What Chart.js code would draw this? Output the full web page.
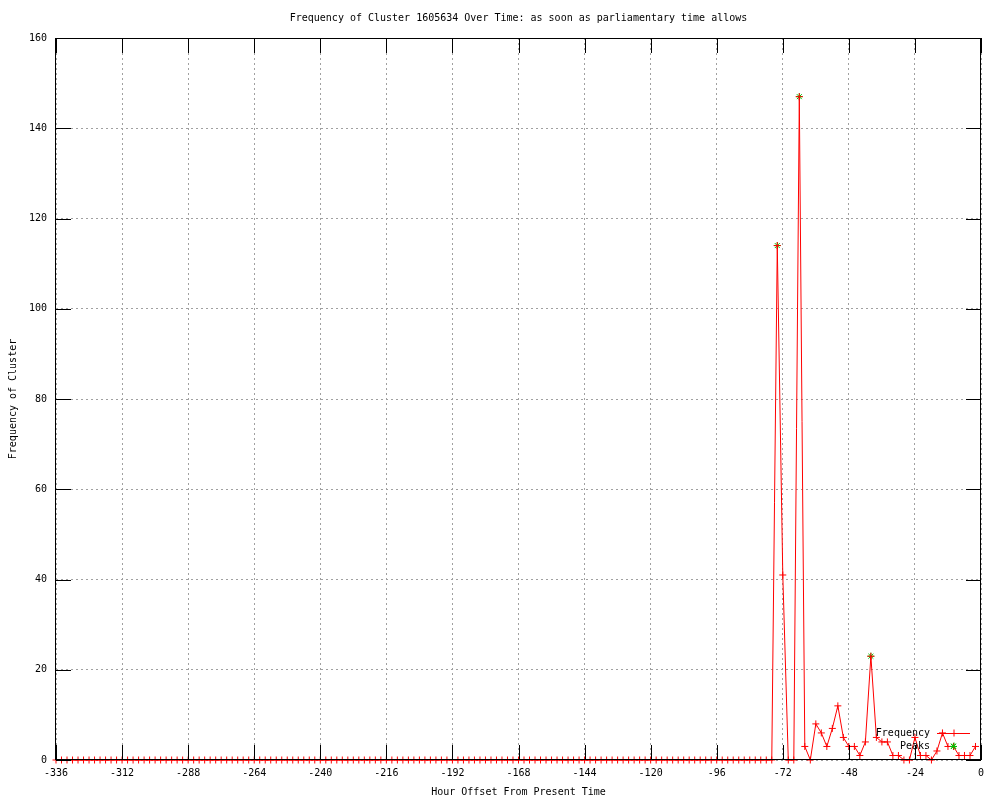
<!DOCTYPE html>
<html>
<head>
<meta charset="utf-8">
<title>Frequency of Cluster 1605634 Over Time</title>
<script src="https://cdn.jsdelivr.net/npm/chart.js@4.4.1/dist/chart.umd.min.js"></script>
<style>
    body { margin: 0; background: #ffffff; }
    #wrap { width: 1000px; height: 800px; }
</style>
</head>
<body>
<div id="wrap"><canvas id="clusterChart" width="1000" height="800"></canvas></div>
<script>
// Hour offsets (one sample every two hours)
const hours = [
    -336, -334, -332, -330, -328, -326, -324, -322, -320, -318,
    -316, -314, -312, -310, -308, -306, -304, -302, -300, -298,
    -296, -294, -292, -290, -288, -286, -284, -282, -280, -278,
    -276, -274, -272, -270, -268, -266, -264, -262, -260, -258,
    -256, -254, -252, -250, -248, -246, -244, -242, -240, -238,
    -236, -234, -232, -230, -228, -226, -224, -222, -220, -218,
    -216, -214, -212, -210, -208, -206, -204, -202, -200, -198,
    -196, -194, -192, -190, -188, -186, -184, -182, -180, -178,
    -176, -174, -172, -170, -168, -166, -164, -162, -160, -158,
    -156, -154, -152, -150, -148, -146, -144, -142, -140, -138,
    -136, -134, -132, -130, -128, -126, -124, -122, -120, -118,
    -116, -114, -112, -110, -108, -106, -104, -102, -100, -98,
    -96, -94, -92, -90, -88, -86, -84, -82, -80, -78,
    -76, -74, -72, -70, -68, -66, -64, -62, -60, -58,
    -56, -54, -52, -50, -48, -46, -44, -42, -40, -38,
    -36, -34, -32, -30, -28, -26, -24, -22, -20, -18,
    -16, -14, -12, -10, -8, -6, -4, -2
];

// Frequency of the cluster at each offset
const frequency = [
    0, 0, 0, 0, 0, 0, 0, 0, 0, 0,
    0, 0, 0, 0, 0, 0, 0, 0, 0, 0,
    0, 0, 0, 0, 0, 0, 0, 0, 0, 0,
    0, 0, 0, 0, 0, 0, 0, 0, 0, 0,
    0, 0, 0, 0, 0, 0, 0, 0, 0, 0,
    0, 0, 0, 0, 0, 0, 0, 0, 0, 0,
    0, 0, 0, 0, 0, 0, 0, 0, 0, 0,
    0, 0, 0, 0, 0, 0, 0, 0, 0, 0,
    0, 0, 0, 0, 0, 0, 0, 0, 0, 0,
    0, 0, 0, 0, 0, 0, 0, 0, 0, 0,
    0, 0, 0, 0, 0, 0, 0, 0, 0, 0,
    0, 0, 0, 0, 0, 0, 0, 0, 0, 0,
    0, 0, 0, 0, 0, 0, 0, 0, 0, 0,
    0, 114, 41, 0, 0, 147, 3, 0, 8, 6,
    3, 7, 12, 5, 3, 3, 1, 4, 23, 5,
    4, 4, 1, 1, 0, 0, 5, 1, 1, 0,
    2, 6, 3, 3, 1, 1, 1, 3
];

// Detected peaks
const peakHours = [-74, -66, -40, -10];
const peakValues = [114, 147, 23, 3];

// Axis ticks
const xTicks = [-336, -312, -288, -264, -240, -216, -192, -168, -144, -120, -96, -72, -48, -24, 0];
const yTicks = [0, 20, 40, 60, 80, 100, 120, 140, 160];

const TICK_LEN = 15;

document.addEventListener('DOMContentLoaded', function() {
    Chart.defaults.font.family = '"DejaVu Sans Mono", "Liberation Mono", monospace';
    Chart.defaults.font.size = 10;
    Chart.defaults.color = '#000000';
    createChart();
});

// Draws the box round the plot and the inward ticks on all four sides
const frameAndTicks = {
    id: 'frameAndTicks',
    afterDatasetsDraw(chart) {
        const { ctx, chartArea: a, scales: { x, y } } = chart;
        ctx.save();
        ctx.strokeStyle = '#000000';
        ctx.lineWidth = 1;
        ctx.setLineDash([]);
        ctx.beginPath();
        x.ticks.forEach(t => {
            const px = Math.round(x.getPixelForValue(t.value)) + 0.5;
            ctx.moveTo(px, a.bottom);
            ctx.lineTo(px, a.bottom - TICK_LEN);
            ctx.moveTo(px, a.top);
            ctx.lineTo(px, a.top + TICK_LEN);
        });
        y.ticks.forEach(t => {
            const py = Math.round(y.getPixelForValue(t.value)) + 0.5;
            ctx.moveTo(a.left, py);
            ctx.lineTo(a.left + TICK_LEN, py);
            ctx.moveTo(a.right, py);
            ctx.lineTo(a.right - TICK_LEN, py);
        });
        ctx.stroke();
        ctx.strokeRect(Math.round(a.left) - 0.5, Math.round(a.top) + 0.5,
            Math.round(a.right - a.left), Math.round(a.bottom - a.top) - 1);
        ctx.restore();
    }
};

// gnuplot style key in the lower right corner of the plot
const cornerKey = {
    id: 'cornerKey',
    afterDraw(chart) {
        const { ctx, chartArea: a } = chart;
        const textRight = a.right - 51;
        const sampleLeft = a.right - 44;
        const sampleRight = a.right - 11;
        const mid = (sampleLeft + sampleRight) / 2;
        ctx.save();
        ctx.font = '10px "DejaVu Sans Mono", monospace';
        ctx.textAlign = 'right';
        ctx.textBaseline = 'middle';
        chart.data.datasets.forEach((ds, i) => {
            const rowY = a.bottom - 27 + i * 13;
            ctx.fillStyle = '#000000';
            ctx.fillText(ds.label, textRight, rowY);
            ctx.strokeStyle = ds.borderColor;
            ctx.lineWidth = 1;
            ctx.beginPath();
            if (ds.showLine !== false) {
                ctx.moveTo(sampleLeft, rowY + 0.5);
                ctx.lineTo(sampleRight, rowY + 0.5);
            }
            const r = ds.pointRadius;
            ctx.moveTo(mid - r, rowY + 0.5);
            ctx.lineTo(mid + r, rowY + 0.5);
            ctx.moveTo(mid + 0.5, rowY - r);
            ctx.lineTo(mid + 0.5, rowY + r);
            if (ds.pointStyle === 'star') {
                const d = r * 0.707;
                ctx.moveTo(mid - d, rowY - d);
                ctx.lineTo(mid + d, rowY + d);
                ctx.moveTo(mid - d, rowY + d);
                ctx.lineTo(mid + d, rowY - d);
            }
            ctx.stroke();
        });
        ctx.restore();
    }
};

function createChart() {
    const ctx = document.getElementById('clusterChart').getContext('2d');
    const freqPoints = hours.map((h, i) => ({ x: h, y: frequency[i] }));
    const peakPoints = peakHours.map((h, i) => ({ x: h, y: peakValues[i] }));

    new Chart(ctx, {
        type: 'line',
        data: {
            datasets: [
                {
                    label: 'Frequency',
                    data: freqPoints,
                    borderColor: '#ff0000',
                    backgroundColor: '#ff0000',
                    borderWidth: 1,
                    pointStyle: 'cross',
                    pointRadius: 3.5,
                    pointBorderWidth: 1,
                    pointBorderColor: '#ff0000',
                    tension: 0,
                    fill: false,
                    clip: false
                },
                {
                    label: 'Peaks',
                    data: peakPoints,
                    showLine: false,
                    borderColor: '#00c000',
                    backgroundColor: '#00c000',
                    pointStyle: 'star',
                    pointRadius: 3.5,
                    pointBorderWidth: 1,
                    pointBorderColor: '#00c000',
                    clip: false
                }
            ]
        },
        options: {
            responsive: false,
            animation: false,
            events: [],
            layout: {
                padding: { top: 0, right: 19, bottom: 0, left: 0 }
            },
            plugins: {
                legend: { display: false },
                tooltip: { enabled: false },
                title: {
                    display: true,
                    fullSize: false,
                    text: 'Frequency of Cluster 1605634 Over Time: as soon as parliamentary time allows',
                    color: '#000000',
                    font: { size: 10, weight: 'normal' },
                    padding: { top: 12, bottom: 14 }
                }
            },
            scales: {
                x: {
                    type: 'linear',
                    min: -336,
                    max: 0,
                    afterBuildTicks(scale) {
                        scale.ticks = xTicks.map(v => ({ value: v }));
                    },
                    afterFit(scale) {
                        scale.height = 40;
                    },
                    ticks: {
                        padding: 7,
                        maxRotation: 0,
                        autoSkip: false
                    },
                    grid: {
                        color: '#a0a0a0',
                        drawTicks: false
                    },
                    border: { display: false, dash: [2, 3] },
                    title: {
                        display: true,
                        text: 'Hour Offset From Present Time',
                        font: { size: 10 },
                        padding: { top: 0, bottom: 2 }
                    }
                },
                y: {
                    type: 'linear',
                    min: 0,
                    max: 160,
                    afterBuildTicks(scale) {
                        scale.ticks = yTicks.map(v => ({ value: v }));
                    },
                    afterFit(scale) {
                        scale.width = 56;
                    },
                    ticks: {
                        padding: 9,
                        autoSkip: false
                    },
                    grid: {
                        color: '#a0a0a0',
                        drawTicks: false
                    },
                    border: { display: false, dash: [2, 3] },
                    title: {
                        display: true,
                        text: 'Frequency of Cluster',
                        font: { size: 10 },
                        padding: { top: 7, bottom: 0 }
                    }
                }
            }
        },
        plugins: [frameAndTicks, cornerKey]
    });
}
</script>
</body>
</html>
